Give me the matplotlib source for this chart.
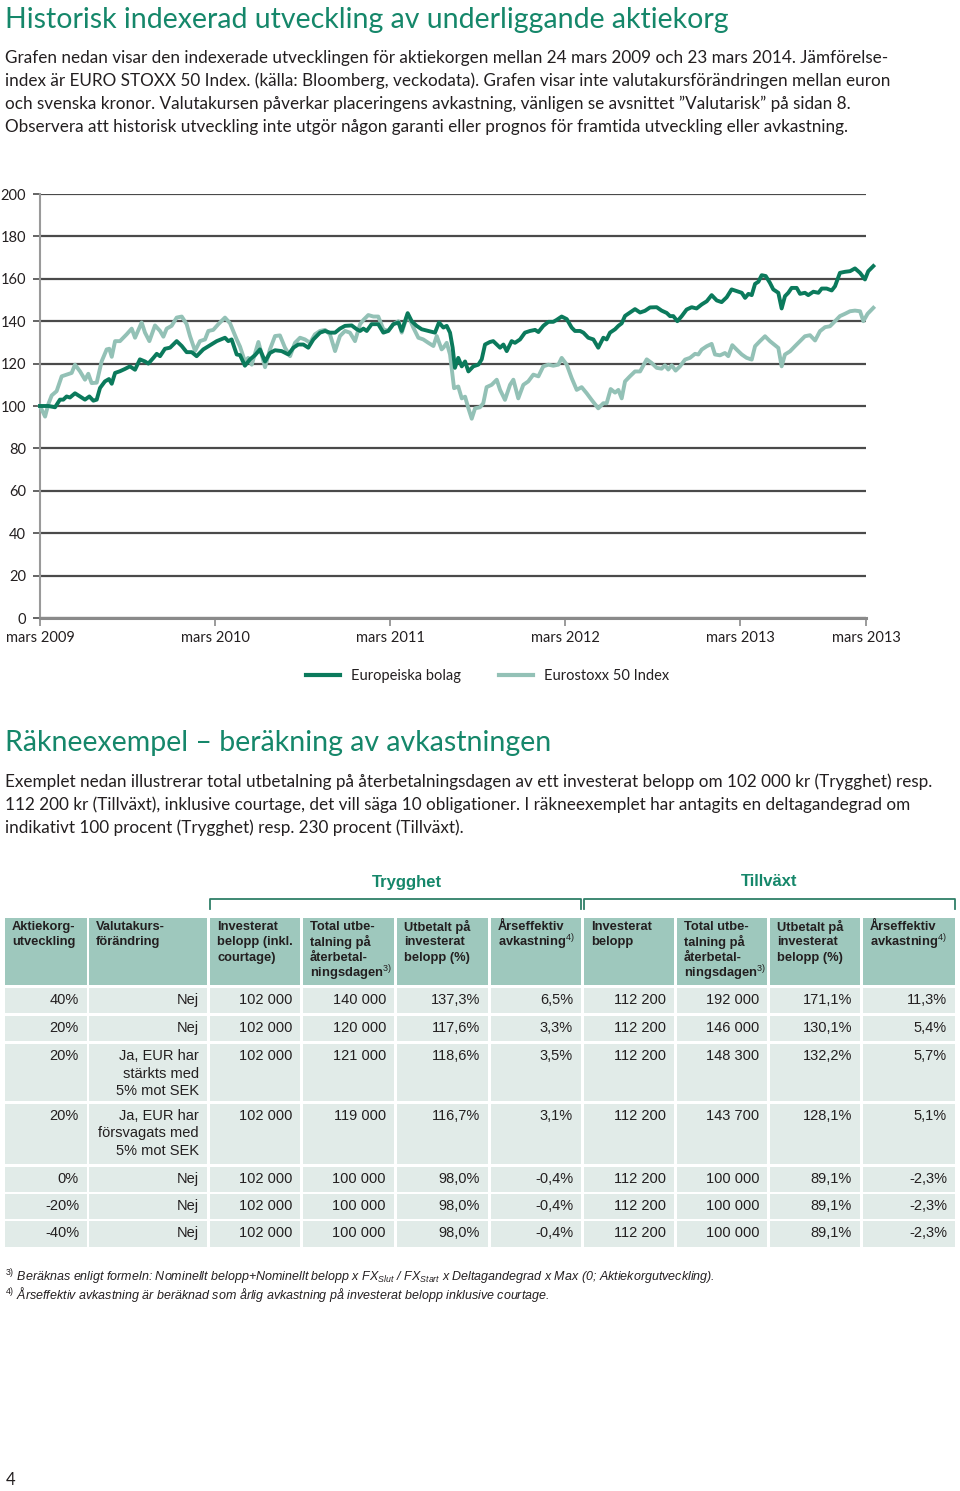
import matplotlib
matplotlib.use("Agg")
import matplotlib.pyplot as plt
from matplotlib.patches import Rectangle
from matplotlib.lines import Line2D

# ---------------- data ----------------
# time in years since 24 March 2009
dark_t = [0.0, 0.015, 0.048, 0.086, 0.114, 0.133, 0.152, 0.171, 0.2, 0.229, 0.257, 0.282, 0.305, 0.324,
          0.343, 0.371, 0.394, 0.41, 0.429, 0.457, 0.486, 0.514, 0.543, 0.571, 0.6, 0.619, 0.648, 0.667,
          0.686, 0.714, 0.743, 0.781, 0.81, 0.838, 0.867, 0.895, 0.933, 0.971, 1.01, 1.057, 1.076, 1.095,
          1.124, 1.143, 1.171, 1.2, 1.229, 1.257, 1.286, 1.314, 1.343, 1.381, 1.419, 1.448, 1.476, 1.505,
          1.533, 1.562, 1.6, 1.629, 1.657, 1.686, 1.714, 1.743, 1.781, 1.81, 1.829, 1.848, 1.867, 1.895,
          1.933, 1.962, 1.99, 2.019, 2.048, 2.067, 2.101, 2.124, 2.152, 2.181, 2.219, 2.257, 2.28, 2.305,
          2.324, 2.343, 2.358, 2.371, 2.39, 2.41, 2.429, 2.448, 2.476, 2.505, 2.524, 2.543, 2.571, 2.59,
          2.61, 2.629, 2.648, 2.667, 2.695, 2.714, 2.743, 2.771, 2.8, 2.829, 2.848, 2.876, 2.905, 2.933,
          2.952, 2.981, 3.01, 3.038, 3.057, 3.086, 3.105, 3.133, 3.162, 3.19, 3.219, 3.238, 3.257, 3.286,
          3.305, 3.324, 3.343, 3.371, 3.4, 3.429, 3.457, 3.486, 3.524, 3.552, 3.581, 3.6, 3.619, 3.642,
          3.667, 3.695, 3.724, 3.752, 3.781, 3.81, 3.838, 3.867, 3.895, 3.924, 3.952, 3.981, 4.01, 4.029,
          4.048, 4.067, 4.086, 4.105, 4.124, 4.147, 4.171, 4.19, 4.219, 4.238, 4.257, 4.276, 4.295, 4.324,
          4.343, 4.371, 4.39, 4.419, 4.448, 4.467, 4.495, 4.524, 4.543, 4.571, 4.6, 4.629, 4.657, 4.686,
          4.714, 4.733, 4.762]
dark_v = [100, 100, 100, 99.4, 103, 103, 104.5, 104, 106, 104.5, 103, 104.5, 102.5, 103,
          108.5, 111.6, 112.7, 110.5, 115.6, 116.4, 117.5, 118.7, 117.1, 122, 121, 120, 122.7, 124.6,
          123.5, 127, 127.5, 130.6, 128.3, 125.4, 125.4, 123.5, 126.7, 128.6, 130.6, 132.2, 130.6, 131.4,
          124.3, 124, 119, 122, 124, 126.7, 121, 125, 126.3, 125.9, 124.3, 127.5, 129, 129,
          127.5, 131.4, 134.6, 135.4, 134.6, 134.6, 136.5, 137.8, 138, 136.2, 135.4, 136.5, 135.4, 138.6,
          138.6, 134.6, 135.4, 138.6, 139.4, 135.4, 143.8, 140, 137.8, 136.2, 135.4, 134.6, 139.4, 137,
          137.8, 134.6, 127.5, 118, 122.7, 118.7, 121, 116.3, 118.7, 119.5, 122, 129, 130.2, 130.6,
          129, 127.5, 129, 125.9, 130.6, 129.8, 131.4, 134.6, 135.4, 135.9, 134.9, 137.8, 139.7, 139.7,
          140.6, 142.2, 141, 137, 135.4, 135.4, 134.6, 132.2, 131.4, 127.5, 132.2, 131.4, 134.6, 136.2,
          137.8, 139, 142.5, 144.1, 145.7, 144.1, 144.9, 146.5, 146.6, 145, 143.9, 142.4, 142.4, 140,
          142.4, 145.5, 146.6, 146, 147.9, 149.4, 152.3, 149.8, 149, 151.3, 155, 154.2, 153.4, 151,
          152.9, 152.3, 157.6, 158.6, 161.7, 161.3, 158.1, 155, 153.4, 146, 151.8, 153.4, 155.7, 155.7,
          152.9, 153.4, 152.3, 153.9, 153.4, 155.4, 155.4, 154.5, 156.5, 162.8, 163.3, 163.6, 164.9, 162.8,
          159.7, 163.6, 166]

light_t = [0.0, 0.029, 0.048, 0.067, 0.095, 0.124, 0.152, 0.181, 0.2, 0.229, 0.257, 0.276, 0.295, 0.324,
           0.352, 0.381, 0.396, 0.41, 0.429, 0.457, 0.495, 0.524, 0.543, 0.581, 0.6, 0.625, 0.657, 0.686,
           0.705, 0.724, 0.752, 0.781, 0.81, 0.838, 0.857, 0.886, 0.914, 0.943, 0.962, 0.99, 1.019, 1.057,
           1.086, 1.124, 1.143, 1.171, 1.19, 1.21, 1.248, 1.286, 1.314, 1.343, 1.371, 1.4, 1.429, 1.457,
           1.486, 1.514, 1.543, 1.571, 1.6, 1.629, 1.657, 1.686, 1.714, 1.743, 1.771, 1.8, 1.829, 1.848,
           1.876, 1.905, 1.933, 1.962, 1.99, 2.019, 2.048, 2.067, 2.101, 2.133, 2.162, 2.19, 2.219, 2.248,
           2.267, 2.295, 2.305, 2.324, 2.343, 2.366, 2.39, 2.41, 2.429, 2.448, 2.467, 2.486, 2.514, 2.533,
           2.552, 2.581, 2.61, 2.629, 2.657, 2.686, 2.705, 2.733, 2.762, 2.79, 2.819, 2.848, 2.876, 2.905,
           2.933, 2.962, 2.981, 3.01, 3.038, 3.067, 3.095, 3.124, 3.152, 3.19, 3.219, 3.238, 3.261, 3.286,
           3.305, 3.324, 3.343, 3.371, 3.4, 3.429, 3.467, 3.495, 3.524, 3.552, 3.571, 3.59, 3.61, 3.632,
           3.657, 3.686, 3.714, 3.743, 3.762, 3.781, 3.81, 3.838, 3.857, 3.886, 3.914, 3.933, 3.956, 3.981,
           4.01, 4.038, 4.067, 4.086, 4.114, 4.143, 4.171, 4.2, 4.219, 4.238, 4.257, 4.286, 4.314, 4.343,
           4.371, 4.4, 4.429, 4.457, 4.486, 4.514, 4.543, 4.571, 4.6, 4.629, 4.657, 4.686, 4.705, 4.729,
           4.762]
light_v = [100, 95, 101, 105, 107, 114, 114.8, 115.6, 119.5, 116.3, 112.4, 115.2, 110.8, 111,
           121, 126.7, 127, 123.2, 130.6, 130.6, 133.8, 136.5, 132.2, 139.4, 134.6, 130.6, 138, 135.4,
           132.7, 136.5, 137.8, 141.7, 142.2, 138.6, 133, 126, 130.6, 131.4, 135.4, 135.9, 138.6, 141.7,
           139, 131.4, 128, 121, 122.7, 119.5, 130.2, 118.3, 126.7, 133, 133.3, 127.5, 123.5, 129.8,
           132.2, 131.4, 129.8, 133.8, 135.4, 135.9, 133.8, 125.9, 133, 135.4, 134.6, 130.6, 138.6, 140.6,
           142.9, 142.2, 142.2, 136.2, 135.4, 138.6, 140, 134.6, 143.3, 137, 132.2, 131.4, 129.8, 128.3,
           133, 126.7, 127.5, 129.8, 124.3, 108.4, 109.2, 103.6, 104.4, 98.9, 94, 98.9, 99.4, 101.3,
           108.9, 110, 112.4, 107.6, 102.9, 110, 112.4, 103.6, 110, 111.6, 114.8, 114, 118.7, 119.5,
           119, 119.5, 122.7, 119.5, 113.2, 107.6, 108.9, 106, 102.9, 98.9, 101.3, 101.3, 108, 106.3,
           107.6, 103.6, 111.6, 114, 116.3, 116.3, 122, 120.3, 118, 117.6, 119.2, 117.2, 119.2, 116.7,
           118.7, 121.9, 122.7, 124.6, 124.3, 126.6, 128.2, 129.3, 124.3, 123.9, 125, 123.5, 128.7, 126.6,
           124.3, 122.7, 121.9, 128.2, 130.6, 132.9, 130.6, 128.7, 127.4, 118.7, 124.3, 125.8, 128.2, 130.6,
           132.9, 133.4, 130.9, 135.3, 137.2, 137.6, 140, 142.4, 143.5, 144.7, 145, 144.7, 140, 143.5,
           146.3]

series_names = ["Europeiska bolag", "Eurostoxx 50 Index"]
y_ticks = [0, 20, 40, 60, 80, 100, 120, 140, 160, 180, 200]
x_tick_pos = [0, 1, 2, 3, 4, 4.72]
x_tick_labels = ["mars 2009", "mars 2010", "mars 2011", "mars 2012", "mars 2013", "mars 2013"]

# table
aktie = ["40%", "20%", "20%", "20%", "0%", "-20%", "-40%"]
valuta = ["Nej", "Nej", "Ja, EUR har\nstärkts med\n5% mot SEK", "Ja, EUR har\nförsvagats med\n5% mot SEK",
          "Nej", "Nej", "Nej"]
tr_inv = ["102 000"] * 7
tr_total = ["140 000", "120 000", "121 000", "119 000", "100 000", "100 000", "100 000"]
tr_pct = ["137,3%", "117,6%", "118,6%", "116,7%", "98,0%", "98,0%", "98,0%"]
tr_ars = ["6,5%", "3,3%", "3,5%", "3,1%", "-0,4%", "-0,4%", "-0,4%"]
ti_inv = ["112 200"] * 7
ti_total = ["192 000", "146 000", "148 300", "143 700", "100 000", "100 000", "100 000"]
ti_pct = ["171,1%", "130,1%", "132,2%", "128,1%", "89,1%", "89,1%", "89,1%"]
ti_ars = ["11,3%", "5,4%", "5,7%", "5,1%", "-2,3%", "-2,3%", "-2,3%"]
headers = ["Aktiekorg-\nutveckling", "Valutakurs-\nförändring", "Investerat\nbelopp (inkl.\ncourtage)",
           "Total utbe-\ntalning på\nåterbetal-\nningsdagen$^{3)}$", "Utbetalt på\ninvesterat\nbelopp (%)",
           "Årseffektiv\navkastning$^{4)}$", "Investerat\nbelopp",
           "Total utbe-\ntalning på\nåterbetal-\nningsdagen$^{3)}$", "Utbetalt på\ninvesterat\nbelopp (%)",
           "Årseffektiv\navkastning$^{4)}$"]
groups = ["Trygghet", "Tillväxt"]

# ---------------- style ----------------
DARK = "#0b7a5c"
LIGHT = "#93c1b6"
TITLE = "#15876a"
HEAD_BG = "#9ec8bd"
ROW_BG = "#e1ebe8"
TXT = "#231f20"

plt.rcParams["mathtext.fontset"] = "custom"
plt.rcParams["mathtext.rm"] = "Liberation Sans"
plt.rcParams["mathtext.it"] = "Liberation Sans:italic"
plt.rcParams["mathtext.bf"] = "Liberation Sans:bold"

W, H = 960, 1491
fig = plt.figure(figsize=(W / 100, H / 100), dpi=100)
fig.patch.set_facecolor("white")

lay = fig.add_axes([0, 0, 1, 1])
lay.set_xlim(0, W)
lay.set_ylim(H, 0)
lay.axis("off")

BODY = "Lato"

lay.text(5, 20, "Historisk indexerad utveckling av underliggande aktiekorg", fontsize=20.5,
         family=BODY, color=TITLE, va="center", ha="left")
para1 = ["Grafen nedan visar den indexerade utvecklingen för aktiekorgen mellan 24 mars 2009 och 23 mars 2014. Jämförelse-",
         "index är EURO STOXX 50 Index. (källa: Bloomberg, veckodata). Grafen visar inte valutakursförändringen mellan euron",
         "och svenska kronor. Valutakursen påverkar placeringens avkastning, vänligen se avsnittet ”Valutarisk” på sidan 8.",
         "Observera att historisk utveckling inte utgör någon garanti eller prognos för framtida utveckling eller avkastning."]
for i, s in enumerate(para1):
    lay.text(5, 58 + i * 23.1, s, fontsize=12.3, family=BODY, color=TXT, va="center", ha="left")

lay.text(5, 743, "Räkneexempel – beräkning av avkastningen", fontsize=20.5,
         family=BODY, color=TITLE, va="center", ha="left")
para2 = ["Exemplet nedan illustrerar total utbetalning på återbetalningsdagen av ett investerat belopp om 102 000 kr (Trygghet) resp.",
         "112 200 kr (Tillväxt), inklusive courtage, det vill säga 10 obligationer. I räkneexemplet har antagits en deltagandegrad om",
         "indikativt 100 procent (Trygghet) resp. 230 procent (Tillväxt)."]
for i, s in enumerate(para2):
    lay.text(5, 782 + i * 23.1, s, fontsize=12.3, family=BODY, color=TXT, va="center", ha="left")

# ---------------- chart ----------------
ax = fig.add_axes([40 / W, (H - 618) / H, 826 / W, 424 / H])
ax.plot(light_t, light_v, color=LIGHT, lw=2.8, clip_on=False, solid_joinstyle="round", zorder=3)
ax.plot(dark_t, dark_v, color=DARK, lw=2.8, clip_on=False, solid_joinstyle="round", zorder=4)
ax.set_xlim(0, 4.72)
ax.set_ylim(0, 200)
ax.set_yticks(y_ticks)
ax.set_yticklabels([str(v) for v in y_ticks], family=BODY, fontsize=10.5, color=TXT)
ax.set_xticks(x_tick_pos)
ax.set_xticklabels(x_tick_labels, family=BODY, fontsize=10.5, color=TXT)
ax.yaxis.grid(True, color="#4a4a4a", lw=1.6)
ax.set_axisbelow(True)
for sp in ["top", "right"]:
    ax.spines[sp].set_visible(False)
ax.spines["left"].set_color("#9a9a9a")
ax.spines["left"].set_linewidth(1.5)
ax.spines["bottom"].set_color("#8a8a8a")
ax.spines["bottom"].set_linewidth(2.2)
ax.tick_params(axis="y", length=5, color="#4a4a4a", width=1.2, pad=5)
ax.tick_params(axis="x", length=6, color="#8a8a8a", width=1.2, pad=3)
ax.set_facecolor("none")

handles = [Line2D([], [], color=DARK, lw=3), Line2D([], [], color=LIGHT, lw=3)]
leg = ax.legend(handles, series_names, loc="center", bbox_to_anchor=(0.542, -0.136), ncol=2,
                frameon=False, handlelength=2.3, columnspacing=2.6, handletextpad=0.8,
                prop={"family": BODY, "size": 10.5})
for t in leg.get_texts():
    t.set_color(TXT)

# ---------------- table ----------------
TF = "Liberation Sans"
col_edges = [(5, 87), (89, 207), (210, 300), (303, 394), (397, 488), (491, 581),
             (584, 674), (677, 767), (770, 860), (863, 955)]
row_edges = [(988, 1013), (1016, 1041), (1044, 1101), (1104, 1164), (1167, 1192), (1194, 1219), (1221, 1247)]
head_edge = (918, 985)
group_label_x = [407, 769]

# group labels and brackets
for name, gx, (c0, c1) in zip(groups, group_label_x, [(2, 5), (6, 9)]):
    xl, xr = col_edges[c0][0], col_edges[c1][1]
    lay.text(gx, 882, name, fontsize=12, fontweight="bold", family=TF, color=TITLE,
             ha="center", va="center")
    lay.plot([xl, xl, xr, xr], [909, 899, 899, 909], color="#2f7f68", lw=1.3)

for (x0, x1), head in zip(col_edges, headers):
    lay.add_patch(Rectangle((x0, head_edge[0]), x1 - x0, head_edge[1] - head_edge[0], facecolor=HEAD_BG,
                            edgecolor="none"))
    for j, line in enumerate(head.split("\n")):
        lay.text(x0 + 7, 927 + j * 15.3, line, fontsize=9.3, fontweight="bold", family=TF, color=TXT,
                 ha="left", va="center")

columns = [aktie, valuta, tr_inv, tr_total, tr_pct, tr_ars, ti_inv, ti_total, ti_pct, ti_ars]
for r, (y0, y1) in enumerate(row_edges):
    for c, (x0, x1) in enumerate(col_edges):
        lay.add_patch(Rectangle((x0, y0), x1 - x0, y1 - y0, facecolor=ROW_BG, edgecolor="none"))
        for j, line in enumerate(columns[c][r].split("\n")):
            lay.text(x1 - 8, y0 + 12 + j * 17.5, line, fontsize=10.5, family=TF, color=TXT,
                     ha="right", va="center")

# footnotes
fn1 = (r"$^{3)}$ Beräknas enligt formeln: Nominellt belopp+Nominellt belopp x FX$_{\mathit{Slut}}$ / "
       r"FX$_{\mathit{Start}}$ x Deltagandegrad x Max (0; Aktiekorgutveckling).")
fn2 = r"$^{4)}$ Årseffektiv avkastning är beräknad som årlig avkastning på investerat belopp inklusive courtage."
lay.text(5, 1277, fn1, fontsize=9.0, family=TF, style="italic", color=TXT, ha="left", va="center")
lay.text(5, 1295, fn2, fontsize=9.0, family=TF, style="italic", color=TXT, ha="left", va="center")

lay.text(6, 1480, "4", fontsize=12, family=BODY, color=TXT, ha="left", va="center")

fig.savefig("out.png", dpi=100, facecolor="white")
